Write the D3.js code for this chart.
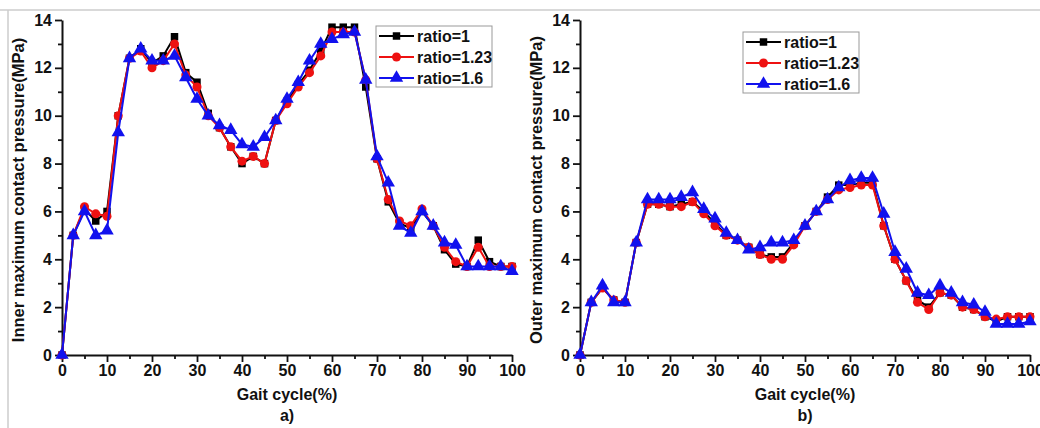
<!DOCTYPE html>
<html><head><meta charset="utf-8">
<script src="https://cdn.jsdelivr.net/npm/d3@7/dist/d3.min.js"></script>
<style>
body{margin:0;background:#fff;}
svg text{font-family:"Liberation Sans",Arial,sans-serif;font-weight:bold;fill:#111;}
</style></head><body>
<svg id="c" width="1040" height="428"></svg>
<script>
const gait = [0,2.5,5,7.5,10,12.5,15,17.5,20,22.5,25,27.5,30,32.5,35,37.5,40,42.5,45,47.5,50,52.5,55,57.5,60,62.5,65,67.5,70,72.5,75,77.5,80,82.5,85,87.5,90,92.5,95,97.5,100];
const seriesNames = ["ratio=1","ratio=1.23","ratio=1.6"];
const innerR1   = [0,5.0,6.1,5.6,6.0,10.0,12.4,12.8,12.2,12.5,13.3,11.8,11.4,10.1,9.5,8.7,8.0,8.3,8.0,9.8,10.6,11.3,11.9,12.7,13.7,13.7,13.7,11.2,8.2,6.4,5.5,5.3,6.0,5.4,4.4,3.8,3.7,4.8,3.9,3.7,3.7];
const innerR123 = [0,5.0,6.2,5.9,5.8,10.0,12.4,12.7,12.0,12.3,13.0,11.7,11.2,10.0,9.5,8.7,8.1,8.3,8.0,9.8,10.5,11.2,11.8,12.5,13.5,13.5,13.5,11.5,8.2,6.5,5.6,5.4,6.1,5.4,4.5,3.9,3.7,4.5,3.7,3.7,3.7];
const innerR16  = [0,5.0,6.0,5.0,5.2,9.3,12.4,12.8,12.3,12.3,12.5,11.6,10.7,10.0,9.6,9.4,8.8,8.7,9.1,9.8,10.7,11.4,12.3,13.0,13.2,13.4,13.5,11.5,8.3,7.2,5.4,5.1,6.0,5.4,4.7,4.6,3.7,3.7,3.7,3.7,3.5];
const outerR1   = [0,2.2,2.8,2.3,2.2,4.7,6.3,6.3,6.2,6.3,6.4,6.0,5.5,5.0,4.8,4.5,4.2,4.1,4.1,4.7,5.4,6.0,6.6,7.1,7.1,7.2,7.2,5.4,4.0,3.1,2.3,2.0,2.6,2.5,2.0,1.9,1.6,1.4,1.6,1.6,1.6];
const outerR123 = [0,2.2,2.8,2.3,2.2,4.7,6.3,6.3,6.2,6.2,6.4,5.9,5.4,5.0,4.8,4.5,4.2,4.0,4.0,4.6,5.4,6.0,6.5,6.9,7.0,7.1,7.1,5.4,4.0,3.1,2.2,1.9,2.6,2.5,2.0,1.9,1.6,1.5,1.6,1.6,1.6];
const outerR16  = [0,2.2,2.9,2.2,2.2,4.7,6.5,6.5,6.5,6.6,6.8,6.1,5.7,5.1,4.8,4.4,4.5,4.7,4.7,4.8,5.4,6.0,6.5,7.0,7.3,7.4,7.4,5.9,4.3,3.6,2.6,2.5,2.9,2.6,2.2,2.1,1.8,1.3,1.3,1.3,1.4];
const xTicks = [0,10,20,30,40,50,60,70,80,90,100];
const yTicks = [0,2,4,6,8,10,12,14];

const colors = ["#000000","#ee1111","#1111ee"];
const shapes = [d3.symbolSquare, d3.symbolCircle, d3.symbolTriangle];
const sizes = [56, 64, 78];

const svg = d3.select("#c");
svg.append("line").attr("x1",0).attr("x2",1040).attr("y1",10).attr("y2",10).attr("stroke","#cccccc").attr("stroke-width",1.5);
svg.append("line").attr("x1",8).attr("x2",8).attr("y1",10).attr("y2",428).attr("stroke","#cccccc").attr("stroke-width",1.5);

function panel(x0, x1, series, ytitle, sub, legPos){
  const x = d3.scaleLinear().domain([0,100]).range([x0,x1]);
  const y = d3.scaleLinear().domain([0,14]).range([355,20]);
  const g = svg.append("g");
  const xa = g.append("g").attr("transform","translate(0,355)")
    .call(d3.axisBottom(x).tickValues(d3.range(5,100,10)).tickSize(4).tickFormat(""));
  xa.select(".domain").remove();
  const ya = g.append("g").attr("transform",`translate(${x0},0)`)
    .call(d3.axisLeft(y).tickValues(d3.range(1,14,2)).tickSize(4).tickFormat(""));
  ya.select(".domain").remove();
  g.append("g").attr("transform","translate(0,355)")
    .call(d3.axisBottom(x).tickValues(xTicks).tickSize(7).tickSizeOuter(0).tickPadding(3));
  g.append("g").attr("transform",`translate(${x0},0)`)
    .call(d3.axisLeft(y).tickValues(yTicks).tickSize(7).tickSizeOuter(0).tickPadding(3));
  g.selectAll(".domain").attr("stroke","#111").attr("stroke-width",2);
  g.selectAll(".tick line").attr("stroke","#111").attr("stroke-width",1.8);
  g.selectAll(".tick text").style("font-size","16px").style("font-family","Liberation Sans, Arial, sans-serif").style("font-weight","bold").attr("fill","#111");

  const line = d3.line().x((d,i)=>x(gait[i])).y(d=>y(d));
  series.forEach((s,k)=>{
    g.append("path").datum(s).attr("d",line).attr("fill","none").attr("stroke",colors[k]).attr("stroke-width",2);
    g.selectAll(null).data(s).enter().append("path")
      .attr("d",d3.symbol().type(shapes[k]).size(sizes[k]))
      .attr("transform",(d,i)=>`translate(${x(gait[i])},${y(d)})`)
      .attr("fill",colors[k]);
  });
  g.append("text").attr("x",(x0+x1)/2).attr("y",400).attr("text-anchor","middle").style("font-size","16px").text("Gait cycle(%)");
  g.append("text").attr("x",(x0+x1)/2).attr("y",421).attr("text-anchor","middle").style("font-size","16px").text(sub);
  g.append("text").attr("transform",`translate(${x0-38},190) rotate(-90)`).attr("text-anchor","middle").style("font-size","16.5px").text(ytitle);
  const lg = g.append("g").attr("transform",`translate(${legPos[0]},${legPos[1]})`);
  lg.append("rect").attr("width",116).attr("height",61).attr("fill","#fff").attr("stroke","#999").attr("stroke-width",1);
  seriesNames.forEach((n,k)=>{
    const yy = 10 + k*21;
    lg.append("line").attr("x1",3).attr("x2",38).attr("y1",yy).attr("y2",yy).attr("stroke",colors[k]).attr("stroke-width",2);
    lg.append("path").attr("d",d3.symbol().type(shapes[k]).size(sizes[k])).attr("transform",`translate(20.5,${yy})`).attr("fill",colors[k]);
    lg.append("text").attr("x",41).attr("y",yy+6).style("font-size","16px").text(n);
  });
}

panel(62, 512, [innerR1, innerR123, innerR16], "Inner maximum contact pressure(MPa)", "a)", [376,26]);
panel(580, 1030, [outerR1, outerR123, outerR16], "Outer maximum contact pressure(MPa)", "b)", [743,32]);
</script>
</body></html>
